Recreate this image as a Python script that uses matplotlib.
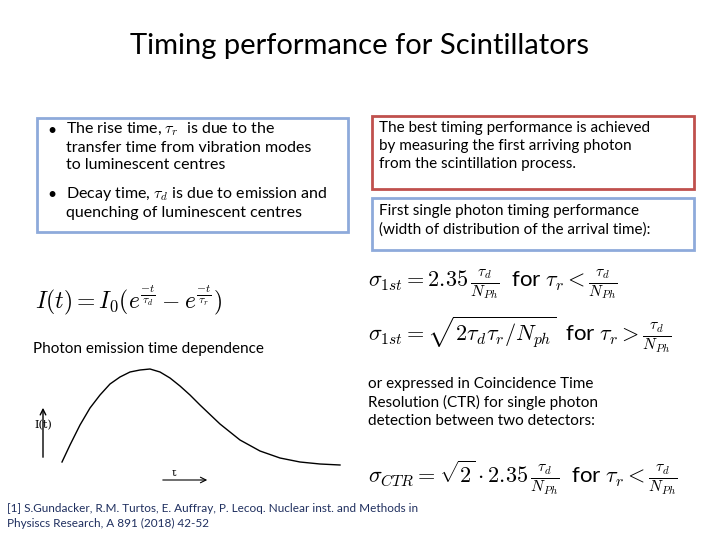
import matplotlib.pyplot as plt
from matplotlib.patches import Rectangle

plt.rcParams['font.family'] = ['Lato', 'DejaVu Sans']
plt.rcParams['mathtext.fontset'] = 'cm'

# curve (time, intensity in arbitrary units)
t_vals = [2, 10, 20, 30, 40, 50, 60, 70, 80, 90, 100, 110, 120, 130, 140,
          160, 180, 200, 220, 240, 260, 280]
i_vals = [8, 25, 45, 62, 75, 86, 93, 98, 100, 101, 98, 92, 84, 75, 65,
          46, 30, 19, 12, 8, 6, 5]

title = 'Timing performance for Scintillators'
bullets = ['•', 'The rise time, $\\tau_r$  is due to the\ntransfer time from vibration modes\nto luminescent centres',
           '•', 'Decay time, $\\tau_d$ is due to emission and\nquenching of luminescent centres']
red_text = 'The best timing performance is achieved\nby measuring the first arriving photon\nfrom the scintillation process.'
blue_text = 'First single photon timing performance\n(width of distribution of the arrival time):'
ctr_text = 'or expressed in Coincidence Time\nResolution (CTR) for single photon\ndetection between two detectors:'
ref_text = '[1] S.Gundacker, R.M. Turtos, E. Auffray, P. Lecoq. Nuclear inst. and Methods in\nPhysiscs Research, A 891 (2018) 42-52'

fig = plt.figure(figsize=(7.2, 5.4), dpi=100)
ax = fig.add_axes([0, 0, 1, 1])
ax.set_xlim(0, 720)
ax.set_ylim(540, 0)
ax.axis('off')

ax.text(360, 46, title, ha='center', va='center', fontsize=21)

ax.add_patch(Rectangle((37, 118), 311, 114, fill=False, ec='#8eaadb', lw=2))
ax.text(47, 131, bullets[0], fontsize=11.5, va='center')
ax.text(66, 121, bullets[1], fontsize=11.5, va='top', linespacing=1.25)
ax.text(47, 195, bullets[2], fontsize=11.5, va='center')
ax.text(66, 185, bullets[3], fontsize=11.5, va='top', linespacing=1.25)

ax.add_patch(Rectangle((372, 116), 322, 73, fill=False, ec='#c0504d', lw=2))
ax.text(379, 121, red_text, fontsize=11, va='top', linespacing=1.35)
ax.add_patch(Rectangle((372, 198), 322, 52, fill=False, ec='#8eaadb', lw=2))
ax.text(379, 204, blue_text, fontsize=11, va='top', linespacing=1.35)

ax.text(35, 300, r'$I(t) = I_0(e^{\frac{-t}{\tau_d}} - e^{\frac{-t}{\tau_r}})$', fontsize=17, va='center')
ax.text(368, 284, r'$\sigma_{1st} = 2.35\,\frac{\tau_d}{N_{Ph}}$  for $\tau_r < \frac{\tau_d}{N_{Ph}}$', fontsize=16, va='center')
ax.text(368, 335, r'$\sigma_{1st} = \sqrt{2\tau_d\tau_r/N_{ph}}$  for $\tau_r > \frac{\tau_d}{N_{Ph}}$', fontsize=16, va='center')
ax.text(368, 478, r'$\sigma_{CTR} = \sqrt{2}\cdot 2.35\,\frac{\tau_d}{N_{Ph}}$  for $\tau_r < \frac{\tau_d}{N_{Ph}}$', fontsize=16, va='center')

ax.text(33, 349, 'Photon emission time dependence', fontsize=11, va='center')
ax.text(368, 377, ctr_text, fontsize=11, va='top', linespacing=1.35)
ax.text(7, 503, ref_text, fontsize=8.5, va='top', color='#1f2f5f', linespacing=1.4)

# decay curve inset
cax = fig.add_axes([60 / 720, 1 - 470 / 540, 285 / 720, 110 / 540])
cax.plot(t_vals, i_vals, color='black', lw=1)
cax.set_xlim(0, 285)
cax.set_ylim(0, 110)
cax.set_xticks([])
cax.set_yticks([])
for s in ['top', 'right', 'bottom', 'left']:
    cax.spines[s].set_visible(False)

ax.annotate('', xy=(78, 405), xytext=(88, 378), arrowprops=dict(arrowstyle='->', lw=1))
ax.text(82, 374, r'$\tau_r$', fontsize=11, va='center')
ax.annotate('', xy=(188, 395), xytext=(208, 380), arrowprops=dict(arrowstyle='->', lw=1))
ax.text(206, 374, r'$\tau_d$', fontsize=11, va='center')
ax.annotate('', xy=(43, 405), xytext=(43, 460), arrowprops=dict(arrowstyle='->', lw=1))
ax.text(34, 425, 'I(t)', fontsize=8, va='center', family='DejaVu Serif')
ax.annotate('', xy=(210, 480), xytext=(160, 480), arrowprops=dict(arrowstyle='->', lw=0.8))
ax.text(172, 478, 't', fontsize=8, va='bottom', family='DejaVu Serif')

fig.savefig('out.png', dpi=100)
